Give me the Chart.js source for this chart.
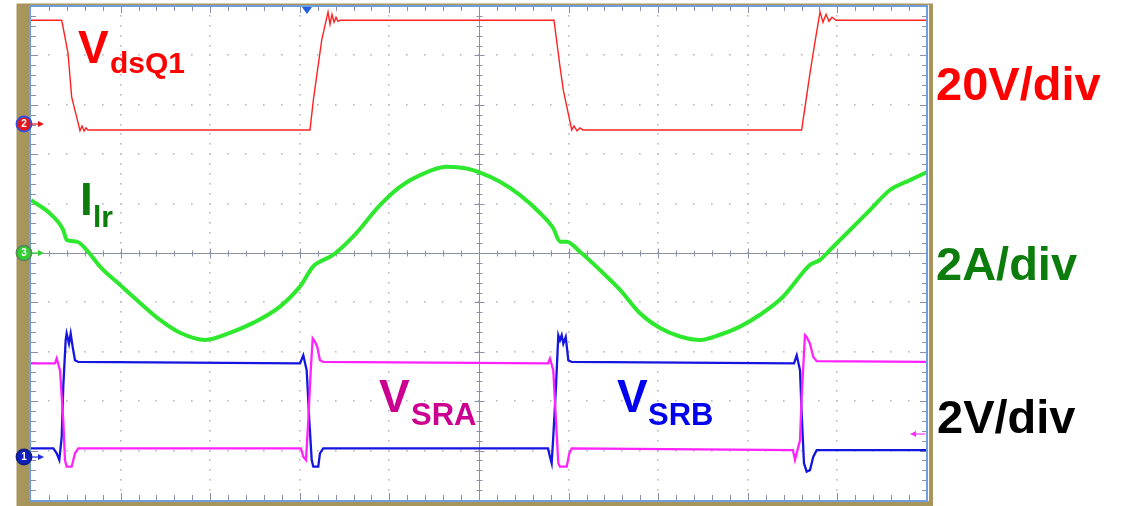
<!DOCTYPE html>
<html>
<head>
<meta charset="utf-8">
<script src="https://cdn.jsdelivr.net/npm/chart.js@4.4.1/dist/chart.umd.min.js"></script>
<style>
  html, body { margin: 0; padding: 0; background: #fff; }
  canvas { display: block; }
</style>
</head>
<body>
<canvas id="scope" width="1130" height="506"></canvas>
<script>
// Time base: horizontal position in screen divisions (10 div across)

// CH2  V_dsQ1  (V, 20 V/div)
const vdsT = [0, 0.343, 0.413, 0.454, 0.510, 0.547, 0.569, 0.592, 0.614, 0.636,
              3.114, 3.151, 3.244, 3.315, 3.337, 3.359, 3.382, 3.404, 3.426, 3.449,
              5.837, 5.904, 5.941, 6.035, 6.060, 6.094, 6.127, 6.161,
              8.601, 8.694, 8.750, 8.806, 8.839, 8.873, 8.906, 8.940, 8.984, 10];
const vdsV = [42.0, 42.0, 28.7, 10.9, 2.8, -2.7, -0.8, -2.8, -1.6, -2.4,
              -2.4, 9.7, 33.9, 45.4, 40.4, 44.4, 41.2, 43.2, 41.6, 42.0,
              42.0, 23.2, 13.7, -2.4, -0.8, -2.8, -1.6, -2.4,
              -2.4, 20.6, 33.3, 45.4, 41.2, 44.4, 41.6, 43.2, 42.0, 42.0];

// CH3  I_lr  (A, 2 A/div)
const ilrT = [0, 0.212, 0.360, 0.398, 0.510, 0.622, 0.770, 0.993, 1.217, 1.440, 1.663, 1.942,
              2.221, 2.478, 2.779, 3.002, 3.147, 3.225, 3.371, 3.594, 3.895, 4.118, 4.342,
              4.640, 4.863, 4.992, 5.234, 5.458, 5.681, 5.829, 5.904, 5.979, 6.127, 6.350,
              6.574, 6.797, 7.020, 7.243, 7.467, 7.690, 7.913, 8.136, 8.393, 8.638, 8.694,
              8.806, 8.917, 9.141, 9.364, 9.587, 9.810, 10];
const ilrA = [2.14, 1.60, 0.93, 0.53, 0.46, 0.12, -0.55, -1.29, -2.02, -2.71, -3.23, -3.52,
              -3.23, -2.83, -2.17, -1.36, -0.55, -0.35, -0.08, 0.66, 1.94, 2.68, 3.15,
              3.49, 3.42, 3.28, 2.88, 2.34, 1.62, 1.00, 0.46, 0.46, 0.05, -0.69,
              -1.49, -2.44, -3.04, -3.38, -3.52, -3.31, -2.98, -2.50, -1.77, -0.69, -0.48,
              -0.28, 0.12, 0.93, 1.74, 2.55, 2.95, 3.28];

// CH4  V_SRA  (V, 2 V/div)
const sraT = [0, 0.268, 0.287, 0.324, 0.360, 0.379, 0.398, 0.454, 0.491, 0.528,
              3.013, 3.039, 3.069, 3.095, 3.122, 3.144, 3.170, 3.195, 3.225, 3.262,
              5.770, 5.792, 5.829, 5.859, 5.885, 5.904, 5.979, 6.008, 6.035,
              8.504, 8.527, 8.583, 8.601, 8.638, 8.657, 8.694, 8.731, 8.769, 10];
const sraV = [3.79, 3.79, 3.99, 3.51, 1.49, -0.12, -0.39, -0.39, 0.15, 0.35,
              0.35, 0.01, -0.12, 1.49, 3.51, 4.80, 4.66, 4.46, 3.92, 3.85,
              3.79, 3.99, 3.51, 1.49, -0.25, -0.39, -0.39, 0.15, 0.35,
              0.28, -0.12, 0.69, 2.44, 4.93, 4.86, 4.59, 4.05, 3.88, 3.85];

// CH1  V_SRB  (V, 2 V/div)
const srbT = [0, 0.249, 0.287, 0.316, 0.343, 0.360, 0.387, 0.398, 0.424, 0.443, 0.465, 0.491, 0.528,
              3.002, 3.039, 3.077, 3.106, 3.133, 3.151, 3.206, 3.225, 3.262,
              5.770, 5.792, 5.811, 5.829, 5.859, 5.885, 5.904, 5.923, 5.941, 5.968, 5.997, 6.035,
              8.516, 8.546, 8.583, 8.601, 8.627, 8.657, 8.694, 8.731, 8.769, 10];
const srbV = [0.35, 0.35, 0.15, -0.12, 0.82, 2.84, 4.73, 5.00, 4.59, 5.00, 4.46, 3.92, 3.85,
              3.79, 4.12, 3.51, 1.49, -0.12, -0.39, -0.39, 0.15, 0.35,
              0.35, 0.01, -0.25, 0.82, 2.84, 4.93, 4.73, 4.93, 4.59, 4.86, 3.92, 3.85,
              3.79, 4.12, 3.51, 1.77, -0.25, -0.59, -0.53, 0.01, 0.28, 0.28];

// Vertical scale per channel: units per division and ground offset in divisions
const ch2Scale = 20, ch2Offset = 2.611;
const ch3Scale = 2,  ch3Offset = 0;
const ch1Scale = 2,  ch1Offset = -4.130;

const pts = (t, v) => t.map((tt, i) => ({ x: tt, y: v[i] }));
const chAxis = (scale, offset) => ({
  type: 'linear', display: false,
  min: (-5 - offset) * scale, max: (5 - offset) * scale
});

const KHAKI = '#a8955c';
const BEZEL = '#6e9edb';
const GRID = '#8b90a8';
const DOT = '#b9bbc6';

const scopeFrame = {
  id: 'scopeFrame',
  beforeDraw(chart) {
    const { ctx, chartArea: a } = chart;
    ctx.save();
    ctx.fillStyle = '#fff';
    ctx.fillRect(0, 0, chart.width, chart.height);
    ctx.fillStyle = KHAKI;
    ctx.fillRect(16.5, 3.5, a.right + 6 - 16.5, chart.height - 3.5);
    ctx.fillStyle = '#fff';
    ctx.fillRect(a.left - 2, a.top - 1, a.right - a.left + 4, a.bottom - a.top + 2);
    ctx.restore();
  },
  beforeDatasetsDraw(chart) {
    const { ctx, chartArea: a, scales: { x, y } } = chart;
    ctx.save();
    // dotted graticule
    ctx.fillStyle = DOT;
    for (let i = 1; i < 10; i++) {
      if (i === 5) continue;
      const px = Math.round(x.getPixelForValue(i));
      for (let j = 1; j < 50; j++) {
        const py = Math.round(y.getPixelForValue(-5 + j * 0.2));
        ctx.fillRect(px - 1, py - 1, 1.6, 1.6);
      }
    }
    for (let j = -4; j <= 4; j++) {
      if (j === 0) continue;
      const py = Math.round(y.getPixelForValue(j));
      for (let i = 1; i < 50; i++) {
        const px = Math.round(x.getPixelForValue(i * 0.2));
        ctx.fillRect(px - 1, py - 1, 1.6, 1.6);
      }
    }
    // centre axes with minor ticks
    const cx = Math.round(x.getPixelForValue(5)) + 0.5;
    const cy = Math.round(y.getPixelForValue(0)) + 0.5;
    ctx.strokeStyle = GRID;
    ctx.lineWidth = 1;
    ctx.beginPath();
    ctx.moveTo(a.left, cy); ctx.lineTo(a.right, cy);
    ctx.moveTo(cx, a.top); ctx.lineTo(cx, a.bottom);
    for (let i = 1; i < 50; i++) {
      const px = Math.round(x.getPixelForValue(i * 0.2)) + 0.5;
      const len = (i % 5 === 0) ? 5 : 3;
      ctx.moveTo(px, cy - len); ctx.lineTo(px, cy + len);
      // top and bottom edge ticks
      ctx.moveTo(px, a.top); ctx.lineTo(px, a.top + len + 2);
      ctx.moveTo(px, a.bottom); ctx.lineTo(px, a.bottom - len - 2);
    }
    for (let j = 1; j < 50; j++) {
      const py = Math.round(y.getPixelForValue(-5 + j * 0.2)) + 0.5;
      const len = (j % 5 === 0) ? 5 : 3;
      ctx.moveTo(cx - len, py); ctx.lineTo(cx + len, py);
      // left and right edge ticks
      ctx.moveTo(a.left, py); ctx.lineTo(a.left + len + 2, py);
      ctx.moveTo(a.right, py); ctx.lineTo(a.right - len - 2, py);
    }
    ctx.stroke();
    ctx.restore();
  },
  afterDatasetsDraw(chart) {
    const { ctx, chartArea: a, scales } = chart;
    ctx.save();
    // bezel line
    ctx.strokeStyle = BEZEL;
    ctx.lineWidth = 2;
    ctx.strokeRect(a.left - 1, a.top, a.right - a.left + 1, a.bottom - a.top + 1);

    // channel ground markers
    const marker = (label, py, fill, ring, arrow) => {
      ctx.beginPath();
      ctx.arc(24, py, 7.5, 0, Math.PI * 2);
      ctx.fillStyle = fill; ctx.fill();
      ctx.lineWidth = 1.8; ctx.strokeStyle = ring; ctx.stroke();
      ctx.fillStyle = '#fff';
      ctx.font = 'bold 10px "Liberation Sans", Arial, sans-serif';
      ctx.textAlign = 'center'; ctx.textBaseline = 'middle';
      ctx.fillText(label, 24, py + 0.5);
      ctx.strokeStyle = arrow; ctx.fillStyle = arrow; ctx.lineWidth = 1.2;
      ctx.beginPath(); ctx.moveTo(32, py); ctx.lineTo(40, py); ctx.stroke();
      ctx.beginPath(); ctx.moveTo(44, py); ctx.lineTo(38, py - 3); ctx.lineTo(38, py + 3); ctx.closePath(); ctx.fill();
    };
    marker('2', scales.ch2.getPixelForValue(0), '#e0181c', '#3050e0', '#e0181c');
    marker('3', scales.ch3.getPixelForValue(0), '#2fd02f', '#5a8a5a', '#2fd02f');
    marker('1', scales.ch1.getPixelForValue(0), '#1020c0', '#102080', '#2030e0');

    // trigger position
    const tx = scales.x.getPixelForValue(3.08);
    ctx.fillStyle = '#2060e0';
    ctx.beginPath(); ctx.moveTo(tx - 5, a.top + 1); ctx.lineTo(tx + 5, a.top + 1); ctx.lineTo(tx, a.top + 8); ctx.closePath(); ctx.fill();

    // trigger level
    const ty = scales.ch1.getPixelForValue(0.93);
    ctx.strokeStyle = '#ff30ff'; ctx.fillStyle = '#ff30ff'; ctx.lineWidth = 1.2;
    ctx.beginPath(); ctx.moveTo(a.right - 2, ty); ctx.lineTo(a.right - 12, ty); ctx.stroke();
    ctx.beginPath(); ctx.moveTo(a.right - 17, ty); ctx.lineTo(a.right - 11, ty - 3); ctx.lineTo(a.right - 11, ty + 3); ctx.closePath(); ctx.fill();

    // trace names and vertical scales
    ctx.textAlign = 'left'; ctx.textBaseline = 'alphabetic';
    const F = (s) => 'bold ' + s + 'px "Liberation Sans", Arial, sans-serif';
    const sub = (main, subText, x0, y0, color, mainSize, subSize, subX, subY) => {
      ctx.fillStyle = color;
      ctx.font = F(mainSize); ctx.fillText(main, x0, y0);
      ctx.font = F(subSize); ctx.fillText(subText, subX, subY);
    };
    sub('V', 'dsQ1', 78, 63, '#ff0000', 46, 30, 110, 73);
    sub('I', 'lr', 80, 215, '#0c7d0c', 46, 30, 93, 227);
    sub('V', 'SRA', 379, 412, '#cc0090', 46, 31, 411, 425);
    sub('V', 'SRB', 617, 412, '#0000ee', 46, 31, 648, 425);

    ctx.font = F(47);
    ctx.fillStyle = '#ff0000'; ctx.fillText('20V/div', 936, 100);
    ctx.fillStyle = '#0c7d0c'; ctx.fillText('2A/div', 936, 280);
    ctx.fillStyle = '#000000'; ctx.fillText('2V/div', 937, 433);
    ctx.restore();
  }
};

const line = (label, data, color, width, axis, smooth) => ({
  label, data, borderColor: color, borderWidth: width, yAxisID: axis,
  pointRadius: 0, tension: smooth ? 0.4 : 0,
  cubicInterpolationMode: smooth ? 'monotone' : 'default', fill: false
});

new Chart(document.getElementById('scope'), {
  type: 'line',
  data: {
    datasets: [
      line('V_dsQ1', pts(vdsT, vdsV), '#ff2222', 1.4, 'ch2', false),
      line('I_lr', pts(ilrT, ilrA), '#2ee82e', 4, 'ch3', true),
      line('V_SRA', pts(sraT, sraV), '#ff22ff', 2.3, 'ch1', false),
      line('V_SRB', pts(srbT, srbV), '#1515e0', 2.3, 'ch1', false)
    ]
  },
  options: {
    responsive: false,
    animation: false,
    devicePixelRatio: 1,
    layout: { padding: { left: 31, top: 6, right: 203, bottom: 6 } },
    plugins: { legend: { display: false }, tooltip: { enabled: false } },
    scales: {
      x: { type: 'linear', display: false, min: 0, max: 10 },
      y: { type: 'linear', display: false, min: -5, max: 5 },
      ch2: chAxis(ch2Scale, ch2Offset),
      ch3: chAxis(ch3Scale, ch3Offset),
      ch1: chAxis(ch1Scale, ch1Offset)
    }
  },
  plugins: [scopeFrame]
});
</script>
</body>
</html>
